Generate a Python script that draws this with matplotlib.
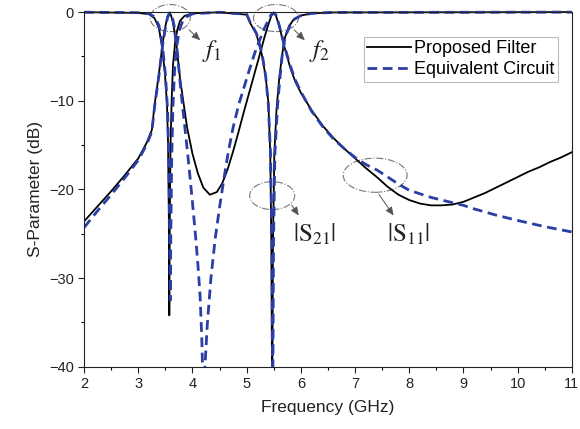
import matplotlib
matplotlib.use("Agg")
import matplotlib.pyplot as plt
from matplotlib.patches import Ellipse
from matplotlib.transforms import Bbox, TransformedBbox

# --- data (GHz, dB) ---
# proposed filter, |S21|
meas_s21_f = [2.0, 2.25, 2.5, 2.75, 3.0, 3.15, 3.25, 3.3, 3.38, 3.45, 3.5, 3.54, 3.57,
              3.6, 3.64, 3.7, 3.77, 3.9, 4.0, 4.1, 4.2, 4.32, 4.45, 4.55, 4.65, 4.75,
              4.85, 4.95, 5.05, 5.15, 5.25, 5.33, 5.4, 5.45, 5.49, 5.54, 5.6, 5.7,
              5.8, 5.9, 6.0, 6.2, 6.4, 6.6, 6.8, 7.0, 7.2, 7.4, 7.6, 7.8, 8.0, 8.2,
              8.4, 8.6, 8.8, 9.0, 9.2, 9.4, 9.6, 9.8, 10.0, 10.2, 10.4, 10.6, 10.8, 11.0]
meas_s21_db = [-23.6, -21.9, -20.2, -18.4, -16.5, -14.8, -13.3, -10.5, -7.0, -3.5, -1.6, -0.5, -0.1,
               -0.3, -1.2, -3.5, -7.5, -13.0, -16.0, -18.2, -19.8, -20.6, -20.3, -19.3, -17.7, -15.7,
               -13.5, -11.2, -9.0, -6.8, -4.6, -2.8, -1.4, -0.5, -0.1, -0.4, -1.6, -4.0,
               -6.2, -7.9, -9.1, -11.1, -12.8, -14.2, -15.4, -16.5, -17.6, -18.6, -19.7, -20.6, -21.2, -21.6,
               -21.8, -21.8, -21.7, -21.4, -20.9, -20.4, -19.8, -19.2, -18.6, -18.0, -17.5, -16.9, -16.4, -15.8]

# proposed filter, |S11|
meas_s11_f = [2.0, 3.0, 3.2, 3.3, 3.38, 3.44, 3.49, 3.53, 3.55, 3.563, 3.572, 3.582, 3.595,
              3.615, 3.64, 3.68, 3.72, 3.77, 3.85, 4.0, 4.5, 5.0, 5.06, 5.18, 5.28, 5.35,
              5.4, 5.435, 5.455, 5.47, 5.485, 5.51, 5.55, 5.6, 5.65, 5.7, 5.78, 5.86, 6.0,
              6.2, 6.6, 11.0]
meas_s11_db = [-0.02, -0.1, -0.25, -0.7, -1.8, -4.0, -6.8, -10.5, -15.0, -23.0, -34.2, -23.0, -15.0,
               -10.0, -6.0, -3.4, -2.0, -1.0, -0.45, -0.15, -0.03, -0.3, -1.2, -2.5, -4.8, -7.3,
               -10.2, -16.0, -26.0, -45.0, -26.0, -16.0, -11.0, -7.5, -5.0, -3.0, -1.6, -0.9, -0.4,
               -0.15, -0.05, -0.01]

# equivalent circuit, |S21|
circ_s21_f = [2.0, 2.25, 2.5, 2.75, 3.0, 3.15, 3.25, 3.3, 3.38, 3.45, 3.5, 3.54, 3.58,
              3.62, 3.66, 3.72, 3.78, 3.85, 3.92, 4.0, 4.06, 4.1, 4.14, 4.17, 4.19, 4.21,
              4.23, 4.27, 4.34, 4.42, 4.5, 4.58, 4.66, 4.75, 4.85, 4.95, 5.05, 5.15, 5.25,
              5.33, 5.4, 5.45, 5.5, 5.55, 5.6, 5.7, 5.8, 5.9, 6.0, 6.2, 6.4, 6.6, 6.8,
              7.0, 7.2, 7.4, 7.6, 7.8, 8.0, 8.4, 8.8, 9.0, 9.2, 9.6, 10.0, 10.5, 11.0]
circ_s21_db = [-24.3, -22.4, -20.6, -18.7, -16.7, -15.0, -13.5, -10.7, -7.2, -3.7, -1.8, -0.6, -0.1,
               -0.4, -1.5, -4.5, -8.5, -12.5, -16.5, -21.5, -25.5, -28.5, -32.0, -36.5, -41.0, -44.0,
               -40.0, -35.5, -30.0, -25.5, -22.0, -18.8, -15.8, -13.0, -10.5, -8.5, -6.5, -4.6, -3.0,
               -1.8, -0.9, -0.3, -0.1, -0.4, -1.5, -3.9, -6.0, -7.7, -9.0, -11.2, -12.9, -14.3, -15.4,
               -16.4, -17.2, -17.8, -18.6, -19.4, -20.1, -20.9, -21.5, -21.8, -22.2, -22.9, -23.5, -24.2, -24.8]

# equivalent circuit, |S11|
circ_s11_f = [2.0, 3.0, 3.2, 3.3, 3.38, 3.44, 3.5, 3.54, 3.565, 3.58, 3.59, 3.6, 3.615,
              3.64, 3.67, 3.71, 3.76, 3.82, 3.9, 4.0, 4.5, 5.0, 5.06, 5.18, 5.28, 5.35,
              5.4, 5.44, 5.465, 5.48, 5.495, 5.52, 5.57, 5.62, 5.66, 5.71, 5.8, 5.88, 6.0,
              6.2, 6.6, 11.0]
circ_s11_db = [-0.02, -0.08, -0.2, -0.55, -1.5, -3.5, -7.0, -11.0, -17.0, -25.0, -32.5, -25.0, -17.0,
               -10.5, -6.5, -3.8, -2.0, -1.0, -0.5, -0.2, -0.03, -0.25, -1.1, -2.4, -4.6, -7.2,
               -10.5, -16.0, -26.0, -45.0, -26.0, -16.0, -10.5, -7.0, -4.6, -2.8, -1.5, -0.8, -0.4,
               -0.15, -0.05, -0.01]

plt.rcParams['font.family'] = ['Liberation Sans', 'DejaVu Sans']
plt.rcParams['mathtext.fontset'] = 'stix'

fig = plt.figure(figsize=(5.8, 4.29), dpi=100)
ax = fig.add_axes([0.145, 0.145, 0.841, 0.827])

blue = '#2a3ea6'
l1, = ax.plot(meas_s21_f, meas_s21_db, color='black', lw=1.3, label='Proposed Filter')
l2, = ax.plot(meas_s11_f, meas_s11_db, color='black', lw=1.3)
l3, = ax.plot(circ_s21_f, circ_s21_db, color=blue, lw=2.0, ls=(0, (3.5, 2)),
              label='Equivalent Circuit')
l4, = ax.plot(circ_s11_f, circ_s11_db, color=blue, lw=2.0, ls=(0, (3.5, 2)))

ax.set_xlim(2, 11)
ax.set_ylim(-40, 0)

# let the 0 dB lines show at full width along the top edge
clip = TransformedBbox(Bbox([[0, 0], [1, 1.012]]), ax.transAxes)
for ln in (l1, l2, l3, l4):
    ln.set_clip_box(clip)

ax.set_xticks(range(2, 12))
ax.set_xticks([x + 0.5 for x in range(2, 11)], minor=True)
ax.set_yticks([-40, -30, -20, -10, 0])
ax.set_yticks([-35, -25, -15, -5], minor=True)
ax.tick_params(which='major', direction='out', length=4, width=0.8, labelsize=10.5,
               colors='#222222', top=False, right=False)
ax.tick_params(which='minor', direction='out', length=2.5, width=0.8, top=False, right=False)
for sp in ax.spines.values():
    sp.set_linewidth(0.8)
    sp.set_color('#222222')

ax.set_xlabel('Frequency (GHz)', fontsize=12.5, color='#222222', labelpad=6)
ax.set_ylabel('S-Parameter (dB)', fontsize=12.5, color='#222222', labelpad=4)

leg = ax.legend(handles=[l1, l3], loc='upper right', bbox_to_anchor=(0.972, 0.93),
                fontsize=13, fancybox=False, framealpha=1, edgecolor='#bbbbbb',
                handlelength=2.4, handletextpad=0.2, borderpad=0.2, labelspacing=0.2,
                borderaxespad=0)
leg.get_frame().set_linewidth(0.8)

# dash-dot ellipses, arrows and labels
ell_style = dict(fill=False, ec='#777777', lw=0.8, ls='-.', clip_on=False)
ax.add_patch(Ellipse((3.59, -0.68), 0.74, 3.05, **ell_style))
ax.add_patch(Ellipse((5.54, -0.68), 0.83, 3.05, **ell_style))
ax.add_patch(Ellipse((5.47, -20.7), 0.83, 3.15, **ell_style))
ax.add_patch(Ellipse((7.37, -18.4), 1.18, 3.85, **ell_style))

arr = dict(arrowstyle='-|>,head_length=0.5,head_width=0.22', color='#555555', lw=0.7)
ax.annotate('', xy=(4.18, -3.4), xytext=(3.90, -1.8), arrowprops=arr)
ax.annotate('', xy=(6.11, -3.4), xytext=(5.84, -1.8), arrowprops=arr)
ax.annotate('', xy=(5.99, -23.2), xytext=(5.80, -21.5), arrowprops=arr)
ax.annotate('', xy=(7.74, -23.2), xytext=(7.41, -20.3), arrowprops=arr)

lab = dict(fontsize=18, ha='center', va='center', color='#222222')
ax.text(4.36, -4.4, r'$f_1$', **lab)
ax.text(6.35, -4.4, r'$f_2$', **lab)
ax.text(6.26, -25.1, r'$|\mathrm{S}_{21}|$', **lab)
ax.text(7.98, -25.1, r'$|\mathrm{S}_{11}|$', **lab)

fig.savefig('out.png', dpi=100)
